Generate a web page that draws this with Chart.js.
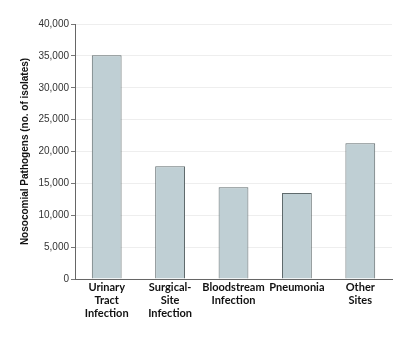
<!DOCTYPE html>
<html>
<head>
<meta charset="utf-8">
<script src="https://cdn.jsdelivr.net/npm/chart.js@4"></script>
<style>
  html, body { margin: 0; padding: 0; background: #fff; }
  #wrap { width: 411px; height: 338px; }
</style>
</head>
<body>
<div id="wrap"><canvas id="myChart" width="411" height="338"></canvas></div>
<script>
// values
var sites = [
    ["Urinary", "Tract", "Infection"],
    ["Surgical-", "Site", "Infection"],
    ["Bloodstream", "Infection"],
    ["Pneumonia"],
    ["Other", "Sites"]
];
var isolates = [35100, 17700, 14400, 13500, 21300];
var yTicks = [0, 5000, 10000, 15000, 20000, 25000, 30000, 35000, 40000];

var barFill = "#bfcfd4";
var barEdge = "#5f6a6c";

new Chart("myChart", {
    type: "bar",
    data: {
        labels: sites,
        datasets: [{
            data: isolates,
            backgroundColor: barFill,
            borderColor: barEdge,
            borderWidth: 1,
            barPercentage: 0.47,
            categoryPercentage: 1
        }]
    },
    options: {
        responsive: false,
        animation: false,
        layout: { padding: { top: 24, right: 19, left: 19, bottom: 0 } },
        plugins: {
            legend: { display: false },
            tooltip: { enabled: false }
        },
        scales: {
            x: {
                grid: { display: false, drawTicks: false },
                border: { color: "#666", width: 1 },
                ticks: {
                    color: "#111",
                    font: { family: "Lato", size: 11, weight: "bold", lineHeight: 1.18 },
                    padding: 2,
                    maxRotation: 0,
                    autoSkip: false
                },
                afterFit: function (s) { s.height = 59; }
            },
            y: {
                min: 0,
                max: 40000,
                afterBuildTicks: function (s) {
                    s.ticks = yTicks.map(function (v) { return { value: v }; });
                },
                grid: { color: "#eeeeee", tickColor: "#777", tickLength: 4 },
                border: { color: "#666", width: 1 },
                ticks: {
                    color: "#333",
                    padding: 2,
                    font: { family: "Liberation Sans", size: 10 },
                    callback: function (v) { return v.toLocaleString("en-US"); }
                },
                title: {
                    display: true,
                    text: "Nosocomial Pathogens (no. of isolates)",
                    color: "#111",
                    font: { family: "Liberation Sans", size: 10, weight: "bold" },
                    padding: { top: 0, bottom: 6 }
                },
                afterFit: function (s) { s.width = 56; }
            }
        }
    }
});
</script>
</body>
</html>
